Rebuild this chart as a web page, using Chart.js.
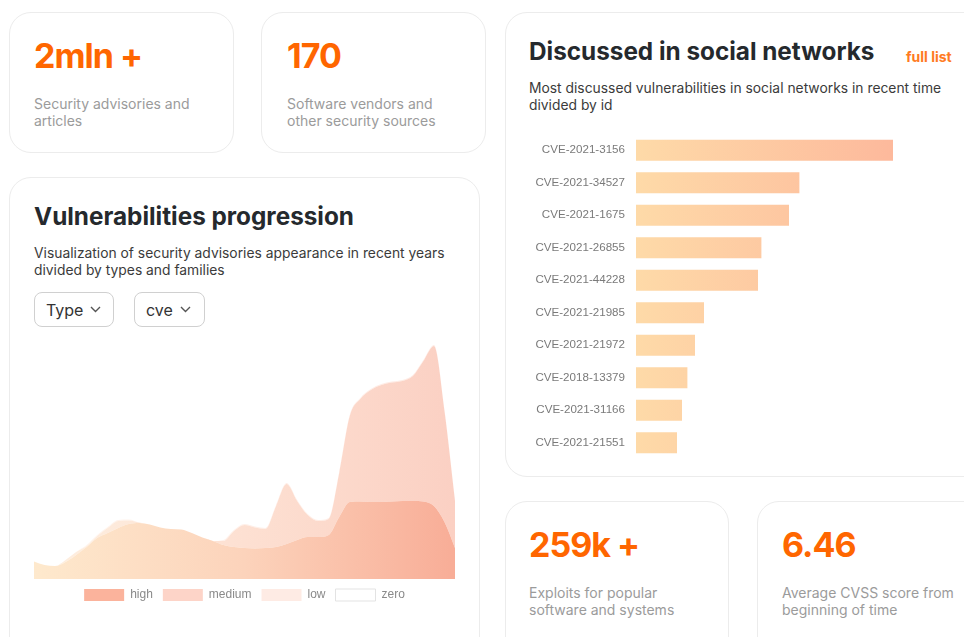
<!DOCTYPE html>
<html>
<head>
<meta charset="utf-8">
<title>Vulnerability dashboard</title>
<script src="https://cdn.jsdelivr.net/npm/chart.js@4.4.1/dist/chart.umd.min.js"></script>
<style>
  html, body { margin: 0; padding: 0; background: #fff; }
  body { width: 964px; height: 637px; overflow: hidden; position: relative; font-family: Inter, 'Noto Sans', sans-serif; }
  .card { position: absolute; box-sizing: border-box; border: 1px solid #ececec; border-radius: 22px; background: #fff; }
  .num { position: absolute; font-size: 34px; line-height: 34px; font-weight: 700; letter-spacing: -1px; color: #ff6600; white-space: nowrap; }
  .desc { position: absolute; font-size: 14px; line-height: 17px; color: #9b9b9b; white-space: nowrap; }
  .title { position: absolute; font-size: 24.3px; line-height: 24px; font-weight: 700; color: #25292d; white-space: nowrap; }
  .sub { position: absolute; font-size: 13.85px; line-height: 17px; color: #3b3b3b; white-space: nowrap; }
  .link { position: absolute; font-size: 14px; line-height: 15px; font-weight: 700; color: #ff7a22; white-space: nowrap; }
  .select { position: absolute; box-sizing: border-box; height: 35px; border: 1px solid #d0d0d0; border-radius: 8px;
            display: flex; align-items: center; padding-left: 11px; font-size: 16px; color: #333; }
  .select svg { margin-left: 7px; }
  .chart-box { position: absolute; }
</style>
</head>
<body>

<!-- stat cards -->
<div class="card" style="left:9px;top:12px;width:225px;height:141px"></div>
<div class="num" style="left:34px;top:39px">2mln +</div>
<div class="desc" style="left:34px;top:95px">Security advisories and<br>articles</div>

<div class="card" style="left:261px;top:12px;width:225px;height:141px"></div>
<div class="num" style="left:287px;top:39px">170</div>
<div class="desc" style="left:287px;top:95px">Software vendors and<br>other security sources</div>

<!-- progression card -->
<div class="card" style="left:9px;top:177px;width:471px;height:500px"></div>
<div class="title" style="left:34px;top:204px">Vulnerabilities progression</div>
<div class="sub" style="left:34px;top:245px">Visualization of security advisories appearance in recent years<br>divided by types and families</div>
<div class="select" style="left:34px;top:292px;width:80px">Type
  <svg width="11" height="7" viewBox="0 0 11 7"><path d="M1 1l4.5 4.5L10 1" fill="none" stroke="#555" stroke-width="1.4"/></svg></div>
<div class="select" style="left:134px;top:292px;width:71px">cve
  <svg width="11" height="7" viewBox="0 0 11 7"><path d="M1 1l4.5 4.5L10 1" fill="none" stroke="#555" stroke-width="1.4"/></svg></div>
<div class="chart-box" style="left:34px;top:339px;width:421px;height:272px"><canvas id="chart-progression"></canvas></div>

<!-- social networks card -->
<div class="card" style="left:505px;top:12px;width:490px;height:465px"></div>
<div class="title" style="left:529px;top:39px">Discussed in social networks</div>
<div class="link" style="left:906px;top:49px">full list</div>
<div class="sub" style="left:529px;top:80px">Most discussed vulnerabilities in social networks in recent time<br>divided by id</div>
<div class="chart-box" style="left:515px;top:116px;width:421px;height:361px"><canvas id="chart-social"></canvas></div>

<!-- bottom stat cards -->
<div class="card" style="left:505px;top:501px;width:224px;height:160px"></div>
<div class="num" style="left:529px;top:528px">259k +</div>
<div class="desc" style="left:529px;top:584px">Exploits for popular<br>software and systems</div>

<div class="card" style="left:757px;top:501px;width:240px;height:160px"></div>
<div class="num" style="left:782px;top:528px">6.46</div>
<div class="desc" style="left:782px;top:584px">Average CVSS score from<br>beginning of time</div>

<script>
// quarterly advisory counts, stacked by severity
const periods = [
  '2012 Q1','2012 Q2','2012 Q3','2012 Q4','2013 Q1','2013 Q2','2013 Q3','2013 Q4',
  '2014 Q1','2014 Q2','2014 Q3','2014 Q4','2015 Q1','2015 Q2','2015 Q3','2015 Q4',
  '2016 Q1','2016 Q2','2016 Q3','2016 Q4','2017 Q1','2017 Q2','2017 Q3','2017 Q4',
  '2018 Q1','2018 Q2','2018 Q3','2018 Q4','2019 Q1','2019 Q2','2019 Q3','2019 Q4',
  '2020 Q1','2020 Q2','2020 Q3','2020 Q4','2021 Q1','2021 Q2','2021 Q3','2021 Q4','2022 Q1'
];
const high = [175,140,130,170,240,320,410,460,510,550,560,545,515,500,495,460,415,380,340,320,
              310,305,310,320,350,390,420,420,440,620,770,775,770,770,775,780,780,775,730,570,310];
const medium = [0,0,0,20,30,10,20,50,70,35,5,0,0,0,0,0,0,0,40,160,
                230,210,190,410,600,390,220,160,160,440,860,1025,1120,1170,1190,1200,1250,1405,1600,1110,470];
const low = [0,0,0,0,0,10,10,10,10,10,0,0,0,0,0,0,0,0,10,10,
             10,10,10,10,10,10,10,10,10,10,10,10,10,10,10,10,10,10,10,10,10];
const zero = [0,0,0,0,0,0,0,0,0,0,0,0,0,0,0,0,0,0,0,0,
              0,0,0,0,0,0,0,0,0,0,0,0,0,0,0,0,0,0,0,0,0];
const severityNames = ['high', 'medium', 'low', 'zero'];
const severityLegend = ['#fbb39c', '#fdd4c8', '#feebe4', '#ffffff'];

// most discussed CVE ids
const cveIds = ['CVE-2021-3156','CVE-2021-34527','CVE-2021-1675','CVE-2021-26855','CVE-2021-44228',
                'CVE-2021-21985','CVE-2021-21972','CVE-2018-13379','CVE-2021-31166','CVE-2021-21551'];
const mentions = [1290, 822, 770, 632, 615, 345, 300, 262, 235, 210];

const $ = id => document.getElementById(id);

// horizontal gradient across the plot area
const hGradient = (stops, fallback) => c => {
  const { chart } = c, area = chart.chartArea;
  if (!area) return fallback;
  const g = chart.ctx.createLinearGradient(area.left, 0, area.right, 0);
  stops.forEach((col, i) => g.addColorStop(i / (stops.length - 1), col));
  return g;
};

const area = (label, data, stops, fill) => ({
  label, data, fill,
  backgroundColor: hGradient(stops, stops[stops.length - 1]),
  borderColor: 'rgba(0,0,0,0)', borderWidth: 0,
  pointRadius: 0, pointHoverRadius: 0,
  cubicInterpolationMode: 'monotone'
});

new Chart($('chart-progression'), {
  type: 'line',
  data: {
    labels: periods,
    datasets: [
      area(severityNames[0], high, ['#fee9cd', '#fcd3bb', '#f8ad97'], 'origin'),
      area(severityNames[1], medium, ['#fef0e1', '#fde0d2', '#fbd0c3'], '-1'),
      area(severityNames[2], low, ['#fff5ee', '#feeae3'], '-1'),
      area(severityNames[3], zero, ['#ffffff', '#ffffff'], '-1')
    ]
  },
  options: {
    responsive: true, maintainAspectRatio: false, animation: false,
    layout: { padding: 0 },
    scales: {
      x: { display: false, offset: false },
      y: { display: false, stacked: true, min: 0, max: 2400 }
    },
    plugins: {
      tooltip: { enabled: false },
      legend: {
        position: 'bottom',
        labels: {
          boxWidth: 40, boxHeight: 12, padding: 10, color: '#8a8a8a',
          font: { family: "'Liberation Sans', Arial, sans-serif", size: 12 },
          generateLabels: chart => Chart.defaults.plugins.legend.labels.generateLabels(chart).map((it, i) => ({
            ...it, fillStyle: severityLegend[i], strokeStyle: '#e3e3e3', lineWidth: i === 3 ? 1 : 0
          }))
        }
      }
    }
  }
});

new Chart($('chart-social'), {
  type: 'bar',
  data: {
    labels: cveIds,
    datasets: [{
      label: 'Mentions',
      data: mentions,
      backgroundColor: c => {
        const { chart } = c;
        if (!chart.chartArea) return '#fed3a6';
        const x = chart.scales.x;
        const g = chart.ctx.createLinearGradient(x.getPixelForValue(0), 0, x.getPixelForValue(Math.max(...mentions)), 0);
        g.addColorStop(0, '#fedaa8');
        g.addColorStop(1, '#fdb99c');
        return g;
      },
      borderColor: 'rgba(255,255,255,0.55)', borderWidth: 1,
      categoryPercentage: 0.8, barPercentage: 0.89
    }]
  },
  options: {
    indexAxis: 'y',
    responsive: true, maintainAspectRatio: false, animation: false,
    layout: { padding: 0 },
    scales: {
      x: { display: false, min: 0, max: 1500 },
      y: {
        grid: { display: false, drawTicks: false }, border: { display: false },
        ticks: { padding: 11, color: '#7a7a7a', font: { family: "'Liberation Sans', Arial, sans-serif", size: 11.6 } },
        afterFit: s => { s.width = 121; }
      }
    },
    plugins: { legend: { display: false }, tooltip: { enabled: false } }
  }
});
</script>
</body>
</html>
